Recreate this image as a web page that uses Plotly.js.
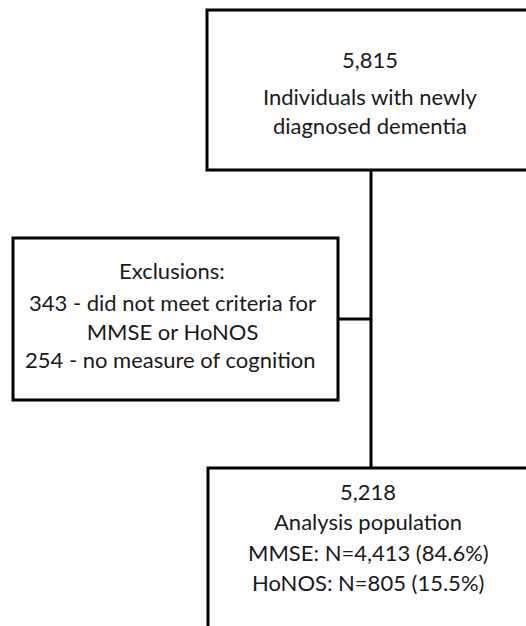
<!DOCTYPE html>
<html>
<head>
<meta charset="utf-8">
<script src="https://cdn.plot.ly/plotly-3.0.1.min.js"></script>
<style>html,body{margin:0;padding:0;background:#fff;}#chart{width:526px;height:626px;}</style>
</head>
<body>
<div id="chart"></div>
<script>
// Flowchart content
const totalCount = "5,815";
const totalLabel = ["Individuals with newly", "diagnosed dementia"];
const exclusionTitle = "Exclusions:";
const exclusionCounts = [343, 254];
const exclusionReasons = [["did not meet criteria for", "MMSE or HoNOS"], ["no measure of cognition"]];
const analysisCount = "5,218";
const analysisLabel = "Analysis population";
const groupNames = ["MMSE", "HoNOS"];
const groupN = ["4,413", "805"];
const groupPct = ["84.6%", "15.5%"];

const font = {family: "Lato, 'Noto Sans', sans-serif", size: 22, color: "#1a1a1a"};
const line = {color: "#000", width: 3};

const shapes = [
  {type: "rect", x0: 207, x1: 560, y0: 10, y1: 170, line: line},
  {type: "rect", x0: 13, x1: 338, y0: 238, y1: 400, line: line},
  {type: "rect", x0: 208, x1: 560, y0: 468, y1: 680, line: line},
  {type: "line", x0: 371, x1: 371, y0: 170, y1: 468, line: line},
  {type: "line", x0: 338, x1: 371, y0: 319, y1: 319, line: line}
];

function ann(x, y, text) {
  return {x: x, y: y, xref: "x", yref: "y", text: text, showarrow: false, font: font, xanchor: "center", yanchor: "middle", borderpad: 0};
}

const annotations = [
  ann(370, 59, totalCount),
  ann(370, 111, totalLabel.join("<br>")),
  ann(172, 270, exclusionTitle),
  ann(172, 317, exclusionCounts[0] + " - " + exclusionReasons[0].join("<br>")),
  ann(170, 359, exclusionCounts[1] + " - " + exclusionReasons[1][0]),
  ann(368, 491, analysisCount),
  ann(368, 521, analysisLabel),
  ann(368, 552, groupNames[0] + ": N=" + groupN[0] + " (" + groupPct[0] + ")"),
  ann(368, 582, groupNames[1] + ": N=" + groupN[1] + " (" + groupPct[1] + ")")
];

const layout = {
  width: 526, height: 626,
  margin: {l: 0, r: 0, t: 0, b: 0},
  paper_bgcolor: "#fff", plot_bgcolor: "#fff",
  xaxis: {range: [0, 526], visible: false, fixedrange: true},
  yaxis: {range: [626, 0], visible: false, fixedrange: true},
  showlegend: false,
  shapes: shapes,
  annotations: annotations
};

Plotly.newPlot("chart", [{x: [], y: [], type: "scatter"}], layout, {staticPlot: true});
</script>
</body>
</html>
